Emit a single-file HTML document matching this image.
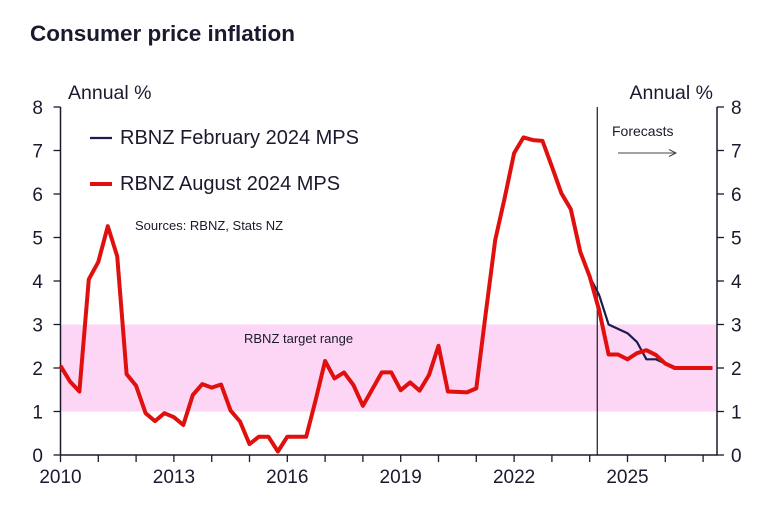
<!DOCTYPE html>
<html><head><meta charset="utf-8"><style>
body{margin:0;background:#fff;width:767px;height:505px;overflow:hidden;font-family:"Liberation Sans",Arial,sans-serif}
svg text{font-family:"Liberation Sans",Arial,sans-serif;fill:#1a1a2e}
</style></head><body>
<svg id="chart" width="767" height="505">
<text x="30" y="41" font-size="22.5" font-weight="bold">Consumer price inflation</text>
<g id="g"></g>
</svg>
<script>
const startYear = 2010;
const yTicks = [0,1,2,3,4,5,6,7,8];
const xTickLabels = [2010,2013,2016,2019,2022,2025];
const augustMPS = [2.05,1.69,1.46,4.04,4.44,5.26,4.57,1.86,1.59,0.96,0.78,0.96,0.87,0.69,1.38,1.63,1.55,1.62,1.02,0.77,0.25,0.42,0.42,0.08,0.42,0.42,0.42,1.26,2.16,1.76,1.90,1.61,1.13,1.51,1.90,1.90,1.49,1.67,1.48,1.84,2.51,1.46,1.45,1.44,1.53,3.25,4.94,5.90,6.94,7.30,7.24,7.22,6.63,6.02,5.65,4.67,4.10,3.33,2.31,2.31,2.20,2.34,2.41,2.30,2.10,2.00,2.00,2.00,2.00,2.00];
const febStartIndex = 55;
const februaryMPS = [4.67,4.10,3.68,3.00,2.90,2.80,2.60,2.20,2.20,2.10,2.00];
const targetLow = 1, targetHigh = 3, forecastStart = 2024.2;

const L=60.5,R=717,T=107,B=455,yMax=8,pxYear=37.8;
const xs=t=>L+(t-startYear)*pxYear;
const ys=v=>B-(v/yMax)*(B-T);
const g=document.getElementById('g');
const NS='http://www.w3.org/2000/svg';
function mk(tag,at,txt){const e=document.createElementNS(NS,tag);for(const k in at)e.setAttribute(k,at[k]);if(txt!==undefined)e.textContent=txt;g.appendChild(e);return e;}

let band=mk('rect',{x:L,y:ys(targetHigh),width:R-L,height:ys(targetLow)-ys(targetHigh),fill:'#fdd6f5'});


let bt=mk('text',{x:244,y:343,'font-size':13},'RBNZ target range');



let ax=mk('path',{d:`M${L},${T}V${B}H${R}V${T}`,fill:'none',stroke:'#1a1a2e','stroke-width':1.5});


yTicks.forEach(v=>{
  mk('line',{x1:L-7,x2:L,y1:ys(v),y2:ys(v),stroke:'#1a1a2e','stroke-width':1.3});
  mk('line',{x1:R,x2:R+7,y1:ys(v),y2:ys(v),stroke:'#1a1a2e','stroke-width':1.3});
  let a=mk('text',{x:43,y:ys(v)+7,'font-size':19,'text-anchor':'end'},v);
  
  
  let b=mk('text',{x:731,y:ys(v)+7,'font-size':19},v);
  
  
});
for(let yr=startYear;yr<=2027;yr++){mk('line',{x1:xs(yr),x2:xs(yr),y1:B,y2:B+7,stroke:'#1a1a2e','stroke-width':1.3});}
xTickLabels.forEach(yr=>{
  let t=mk('text',{x:xs(yr),y:483,'font-size':19,'text-anchor':'middle'},yr);
  
  
});
let a1=mk('text',{x:68,y:99,'font-size':19.5},'Annual %');


let a2=mk('text',{x:713,y:99,'font-size':19.5,'text-anchor':'end'},'Annual %');



let fl=mk('line',{x1:xs(forecastStart),x2:xs(forecastStart),y1:T,y2:B,stroke:'#1a1a2e','stroke-width':1.2});


let ft=mk('text',{x:612,y:136,'font-size':14},'Forecasts');


let fa=mk('path',{d:'M618,153H676M669,149.5L676,153L669,156.5',fill:'none',stroke:'#444','stroke-width':1});


let src=mk('text',{x:135,y:230,'font-size':13},'Sources: RBNZ, Stats NZ');



const q=i=>startYear+i/4;
let pf=februaryMPS.map((v,i)=>`${xs(q(i+febStartIndex)).toFixed(1)},${ys(v).toFixed(1)}`).join(' ');
let lf=mk('polyline',{points:pf,fill:'none',stroke:'#1c1c4e','stroke-width':2.2,'stroke-linejoin':'round'});


let pa=augustMPS.map((v,i)=>`${xs(q(i)).toFixed(1)},${ys(v).toFixed(1)}`).join(' ');
let la=mk('polyline',{points:pa,fill:'none',stroke:'#e0100f','stroke-width':4,'stroke-linejoin':'round'});



let l1=mk('line',{x1:90,x2:112,y1:138,y2:138,stroke:'#1c1c4e','stroke-width':2.2});


let t1=mk('text',{x:120,y:144,'font-size':20},'RBNZ February 2024 MPS');


let l2=mk('line',{x1:90,x2:112,y1:184,y2:184,stroke:'#e0100f','stroke-width':4});


let t2=mk('text',{x:120,y:190,'font-size':20},'RBNZ August 2024 MPS');


</script>
</body></html>
